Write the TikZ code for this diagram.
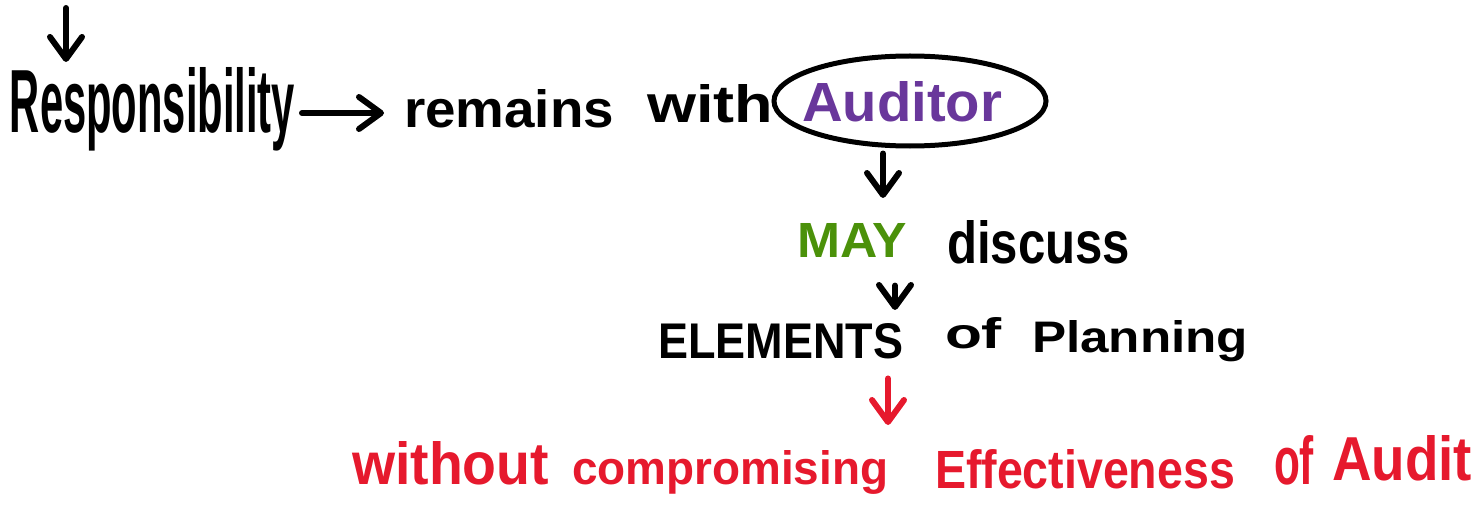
\documentclass[tikz,border=0pt]{standalone}
\usepackage{fontspec}
\setmainfont{Liberation Sans}
\usetikzlibrary{arrows.meta,shapes.geometric}
\definecolor{inkpurple}{RGB}{105,55,155}
\definecolor{inkgreen}{RGB}{75,145,10}
\definecolor{inkred}{RGB}{230,25,45}
% a word stretched to a given width and height above the baseline
\newcommand{\hw}[3]{\resizebox{#1pt}{#2pt}{#3}}
\tikzset{
  word/.style={inner sep=0pt, outer sep=0pt, anchor=base west, font=\bfseries},
  pen/.style={line width=6pt, line cap=round, line join=round},
  arr/.style={pen, -{Straight Barb[length=22pt,width=32pt,line cap=round,line join=round]}},
}
\begin{document}
\begin{tikzpicture}[x=1pt, y=-1pt]
\useasboundingbox (0,0) rectangle (1474,524);

% first line
\node[word] (resp) at (10,133) {\hw{285}{65}{Responsibility}};
\node[word] (remains) at (404,128) {\hw{210}{38}{remains}};
\node[word] (with) at (647,123) {\hw{126}{38}{with}};
\node[draw, ellipse, line width=5pt, minimum width=272pt, minimum height=90pt,
      inner sep=0pt] (ell) at (910,101) {};
\node[word, text=inkpurple] (aud) at (802,122) {\hw{200}{40}{Auditor}};

% second line
\node[word, text=inkgreen] (may) at (797,257) {\hw{110}{34}{MAY}};
\node[word] (disc) at (947,263) {\hw{183}{43}{discuss}};

% third line
\node[word] (elem) at (658,358) {\hw{245}{35}{ELEMENTS}};
\node[word] (of) at (945,348) {\hw{57}{31}{of}};
\node[word] (plan) at (1032,352) {\hw{216}{32}{Planning}};

% fourth line
\node[word, text=inkred] (without) at (352,484) {\hw{197}{43}{without}};
\node[word, text=inkred] (comp) at (572,484) {\hw{316}{34}{compromising}};
\node[word, text=inkred] (eff) at (935,488) {\hw{300}{39}{Effectiveness}};
\node[word, text=inkred] (of2) at (1274,484) {\hw{40}{49}{of}};
\node[word, text=inkred] (audit) at (1332,480) {\hw{140}{45}{Audit}};

% connectors
\coordinate (top) at (66,8);
\coordinate (xa) at (883,0);
\coordinate (xb) at (895,0);
\coordinate (xc) at (888,0);
\draw[arr, shorten >=6pt] (top) -- (top |- resp.north);
\draw[arr, shorten <=7pt, shorten >=20pt] (resp.east |- 0,113) -- (remains.west |- 0,113);
\draw[arr, shorten <=5pt, shorten >=25pt] (ell.south -| xa) -- (may.north -| xa);
\draw[arr, shorten <=22pt, shorten >=13pt] (disc.south -| xb) -- (elem.north -| xb);
\draw[arr, draw=inkred, shorten <=20pt, shorten >=25pt] (elem.south -| xc) -- (comp.north -| xc);
\end{tikzpicture}
\end{document}
